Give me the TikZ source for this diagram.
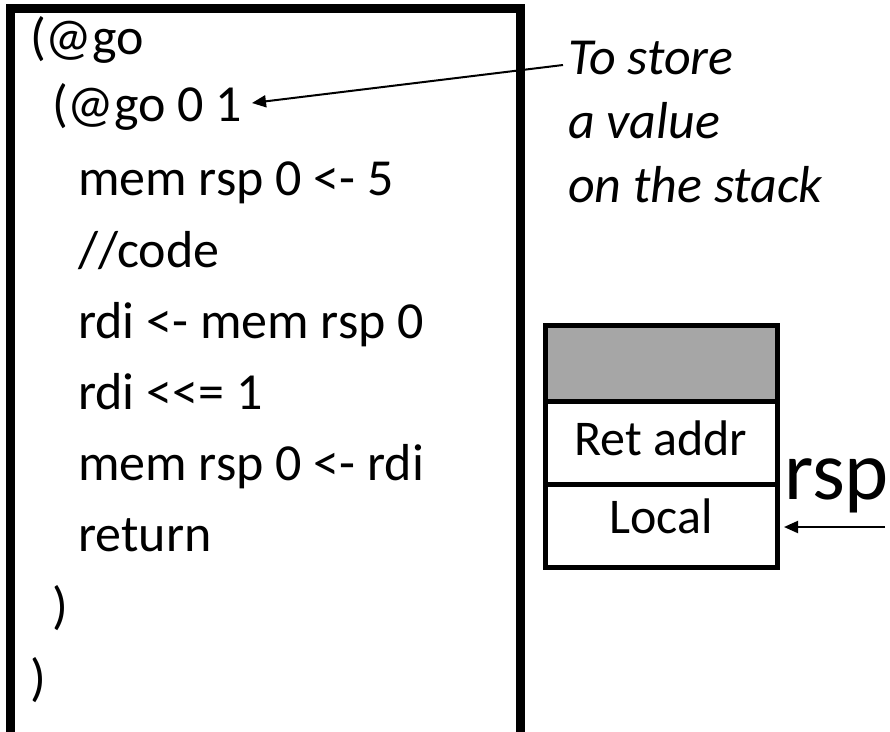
\documentclass[tikz,border=0pt]{standalone}
\usepackage{fontspec}
\setmainfont{Carlito}
\usetikzlibrary{arrows.meta}
\definecolor{stackgray}{RGB}{166,166,166}
\begin{document}
\begin{tikzpicture}[x=1pt,y=-1pt,
  code/.style={anchor=base west,inner sep=0pt,font=\fontsize{52}{62}\selectfont},
  note/.style={anchor=base west,inner sep=0pt,font=\fontsize{52}{62}\selectfont\itshape},
  celltext/.style={anchor=base,inner sep=0pt,font=\fontsize{50}{60}\selectfont},
  cell/.style={draw,line width=5pt,outer sep=0pt,inner sep=0pt,
    minimum width=232pt,line join=miter},
  pointer/.style={line width=2pt,-{Triangle[length=14pt,width=12pt]}}]
\useasboundingbox (0,0) rectangle (890,731);
\clip (0,0) rectangle (890,731);
\fill[white] (0,0) rectangle (890,731);

% frame round the listing, open below
\draw[line width=9pt,line join=miter] (10,745) -- (10,8.5) -- (520,8.5) -- (520,745);

% the listing
\node[code] (l1)  at (30,54)  {(@go};
\node[code] (l2)  at (52,121) {(@go 0 1};
\node[code] (l3)  at (78,195) {mem rsp 0 <- 5};
\node[code] (l4)  at (78,267) {//code};
\node[code] (l5)  at (78,338) {rdi <- mem rsp 0};
\node[code] (l6)  at (78,409) {rdi <{}<= 1};
\node[code] (l7)  at (78,480) {mem rsp 0 <- rdi};
\node[code] (l8)  at (78,551) {return};
\node[code] (l9)  at (52,623) {)};
\node[code] (l10) at (30,695) {)};

% annotation
\node[note] (n1) at (568,74)  {To store};
\node[note] (n2) at (568,138) {a value};
\node[note] (n3) at (568,202) {on the stack};
\coordinate (notetail) at (563,65);
\coordinate (notetip) at (252,103);
\draw[pointer] (notetail) -- (notetip);

% stack frame
\node[cell,fill=stackgray,minimum height=76pt,anchor=north west] (s1) at (545,325) {};
\node[cell,minimum height=83pt,anchor=north] (s2) at (s1.south) {};
\node[cell,minimum height=83pt,anchor=north] (s3) at (s2.south) {};
\node[celltext] (t2) at (661,455) {Ret addr};
\node[celltext] (t3) at (661,533) {Local};

% stack pointer
\node[anchor=base west,inner sep=0pt,font=\fontsize{84}{100}\selectfont] (rsp) at (784,499) {rsp};
\coordinate (rsptail) at (885,527);
\draw[pointer] (rsptail) -- ([xshift=7pt,yshift=-1.5pt]s3.east);
\end{tikzpicture}
\end{document}
